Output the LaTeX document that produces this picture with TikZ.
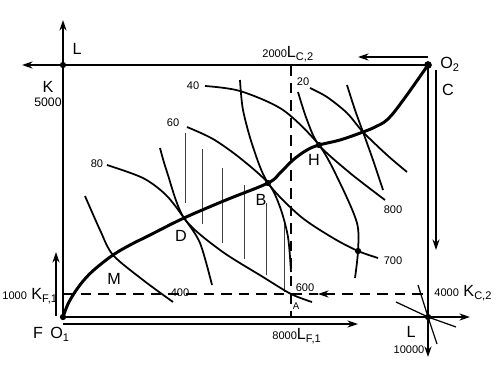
\documentclass[tikz,border=0pt]{standalone}
\usepackage{fontspec}
\setmainfont{Liberation Sans}
\usetikzlibrary{arrows.meta}
\newcommand{\lfont}{\fontsize{9.2}{10}\selectfont}
\newcommand{\nfont}{\fontsize{6.3}{7}\selectfont}
\newcommand{\sub}[1]{\raisebox{-0.45ex}{\nfont #1}}

\begin{document}
\begin{tikzpicture}[x=0.02cm,y=-0.02cm,>={Stealth[length=6pt,width=4pt]},
    frame/.style={line width=1.1pt},
    thinarrow/.style={line width=0.7pt,->},
    contract/.style={line width=1.7pt},
    iso/.style={line width=1pt},
    hatch/.style={line width=0.5pt,black!75},
    guide/.style={line width=0.6pt,dash pattern=on 6pt off 4pt},
    lbl/.style={inner sep=0pt,font=\lfont},
    num/.style={inner sep=0pt,font=\nfont}]
    \useasboundingbox (0,0) rectangle (497,372);
    % corners and points
    \coordinate (O1) at (63,317);
    \coordinate (O2) at (428,65);
    \coordinate (TL) at (63,65);
    \coordinate (BR) at (428,317);
    \coordinate (M) at (113,255);
    \coordinate (D) at (184,218);
    \coordinate (B) at (268,183);
    \coordinate (H) at (319,145);
    \coordinate (X) at (363,132);
    \coordinate (P) at (358,251);
    \coordinate (A) at (291,294);
    \coordinate (LC) at (291,65);
    \coordinate (LF) at (291,317);
    \coordinate (KF) at (63,294);
    \coordinate (KC) at (428,294);
    \coordinate (Ktip) at (318,294);
    \coordinate (Kend) at (22,65);
    \coordinate (Lend) at (63,20);
    \coordinate (Fend) at (470,317);
    \coordinate (Cend) at (428,357);

    % frame
    \path[draw,frame,->] (O2) -- (Kend);
    \path[draw,frame,->] (O1) -- (Lend);
    \path[draw,frame,->] (O1) -- (Fend);
    \path[draw,frame,->] (O2) -- (Cend);
    \path[draw,thinarrow] (428,57) -- (358,57);
    \path[draw,thinarrow] (436,70) -- (436,250);
    \path[draw,thinarrow] (56,316) -- (56,252);
    \path[draw,thinarrow] (63,324) -- (358,324);
    \draw[line width=0.7pt] (396,302) -- (BR) -- (456,327);
    \draw[line width=0.7pt] (418,285) -- (BR) -- (437,344);

    % dashed guides
    \draw[guide] (KF) -- (Ktip);
    \draw[guide,<-] (Ktip) -- (KC);
    \draw[guide] (LC) -- (A) -- (LF);

    % shaded lens
    \foreach \x/\t/\b in {185/133/203,202/149/224,222/168/243,244/185/259,266/203/275,284/220/292}
      \draw[hatch] (\x,\t) -- (\x,\b);

    % isoquants of F
    \draw[iso] plot[smooth] coordinates {(85,196) (100,230) (M) (143,280) (173,302)};
    \draw[iso] plot[smooth] coordinates {(160,148) (167,172) (D) (220,250) (263,277) (A) (312,302)};
    \draw[iso] plot[smooth] coordinates {(240,80) (243,110) (253,147) (B) (300,216) (333,238) (P) (378,258)};
    \draw[iso] plot[smooth] coordinates {(298,92) (307,120) (H) (350,173) (385,200)};
    \draw[iso] plot[smooth] coordinates {(347,85) (355,110) (X) (373,160) (383,190)};
    % isoquants of C
    \draw[iso] plot[smooth] coordinates {(107,165) (143,178) (166,195) (D) (200,243) (212,285)};
    \draw[iso] plot[smooth] coordinates {(187,127) (213,139) (240,158) (B) (280,207) (288,237) (291,272)};
    \draw[iso] plot[smooth] coordinates {(205,86) (240,91) (283,110) (H) (340,183) (357,223) (P) (355,278)};
    \draw[iso] plot[smooth] coordinates {(310,88) (327,97) (347,113) (X) (387,155) (407,172)};

    % contract curve
    \draw[contract] plot[smooth,tension=0.6] coordinates {(O1) (68,304) (75,292) (84,280) (95,269) (M) (130,245) (148,236) (D) (226,200) (B) (280,173) (293,160) (307,150) (H) (340,140) (X) (375,127) (388,119) (404,99) (O2)};

    \foreach \p in {O1,TL,BR,B,H,P}
      \fill (\p) circle (1.8pt);
    \fill (O2) circle (2.2pt);

    % labels
    \node[lbl] (lM) at (114,279) {M};
    \node[lbl] (lD) at (181,236) {D};
    \node[lbl] (lB) at (261,200) {B};
    \node[lbl] (lH) at (314,160) {H};
    \node[num,font=\fontsize{5.5}{6}\selectfont] (lA) at (296,306) {A};
    \node[num] (q80) at (97,164) {80};
    \node[num] (q60) at (173,123) {60};
    \node[num] (q40) at (193,86) {40};
    \node[num] (q20) at (303,82) {20};
    \node[num] (q400) at (180,293) {400};
    \node[num] (q600) at (305,288) {600};
    \node[num] (q700) at (393,261) {700};
    \node[num] (q800) at (393,210) {800};
    \node[lbl] (lLtop) at (77,49) {L};
    \node[lbl] (lK) at (48,87) {K};
    \node[num,font=\fontsize{7}{8}\selectfont] (l5000) at (48,102) {5000};
    \node[lbl,anchor=base west] (lLC) at (262,57) {{\nfont 2000}L\sub{C,2}};
    \node[lbl,anchor=base west] (lO2) at (440,68) {O\sub{2}};
    \node[lbl] (lC) at (448,90) {C};
    \node[lbl,anchor=base west] (lKF) at (2,299) {{\nfont 1000} K\sub{F,1}};
    \node[lbl,anchor=base west] (lKC) at (434,296) {{\nfont 4000} K\sub{C,2}};
    \node[lbl,anchor=base west] (lLF) at (272,339) {{\nfont 8000}L\sub{F,1}};
    \node[lbl] (lF) at (38,333) {F};
    \node[lbl,anchor=base west] (lO1) at (50,338) {O\sub{1}};
    \node[lbl] (lLbot) at (411,332) {L};
    \node[num] (l10000) at (409,350) {10000};
\end{tikzpicture}
\end{document}
